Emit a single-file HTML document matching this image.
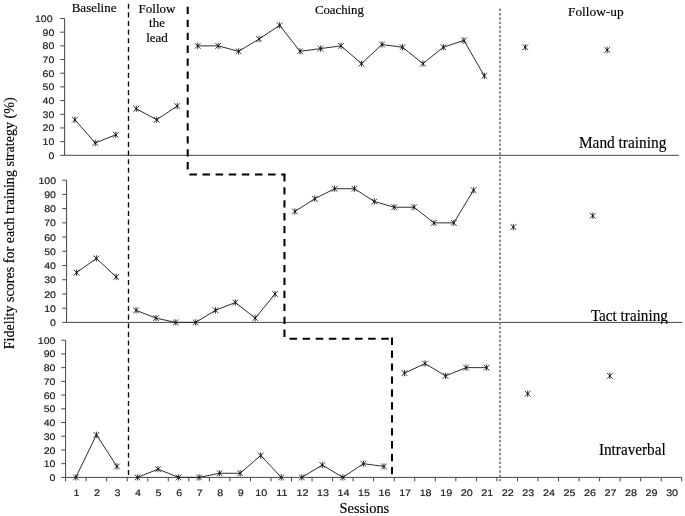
<!DOCTYPE html>
<html lang="en"><head><meta charset="utf-8"><title>Fidelity scores</title>
<style>
html,body{margin:0;padding:0;background:#fff}
svg{display:block}
.ser{font-family:"Liberation Serif",serif;fill:#000;stroke:#000;stroke-width:.16px}
.san{font-family:"Liberation Sans",sans-serif;fill:#1a1a1a;font-size:9.5px;stroke:#1a1a1a;stroke-width:.18px;text-rendering:geometricPrecision}
</style></head><body>
<svg width="685" height="516" viewBox="0 0 685 516">
<rect width="685" height="516" fill="#fff"/>
<defs><g id="m" stroke="#262626" stroke-width="0.9" fill="none"><path d="M-2.85-2.85L2.85 2.85M-2.85 2.85L2.85-2.85M0-3.2V3.2"/><circle r="0.95" fill="#111" stroke="none"/></g></defs>

<g stroke="#444" stroke-width="1" fill="none">
<path d="M64.60 18.50V155.30H678.90"/>
<path d="M60.30 155.30h4.3M60.30 141.62h4.3M60.30 127.94h4.3M60.30 114.26h4.3M60.30 100.58h4.3M60.30 86.90h4.3M60.30 73.22h4.3M60.30 59.54h4.3M60.30 45.86h4.3M60.30 32.18h4.3M60.30 18.50h4.3"/>
</g>
<g class="san" text-anchor="end">
<text transform="translate(54.3 158.8) scale(1.11 1)">0</text>
<text transform="translate(54.3 145.1) scale(1.11 1)">10</text>
<text transform="translate(54.3 131.4) scale(1.11 1)">20</text>
<text transform="translate(54.3 117.8) scale(1.11 1)">30</text>
<text transform="translate(54.3 104.1) scale(1.11 1)">40</text>
<text transform="translate(54.3 90.4) scale(1.11 1)">50</text>
<text transform="translate(54.3 76.7) scale(1.11 1)">60</text>
<text transform="translate(54.3 63.0) scale(1.11 1)">70</text>
<text transform="translate(54.3 49.4) scale(1.11 1)">80</text>
<text transform="translate(54.3 35.7) scale(1.11 1)">90</text>
<text transform="translate(52.6 22.0) scale(1.11 1)">100</text>
</g>
<polyline points="74.84,119.73 95.31,142.99 115.79,134.78" fill="none" stroke="#262626" stroke-width="0.97"/>
<use href="#m" x="74.84" y="119.73"/>
<use href="#m" x="95.31" y="142.99"/>
<use href="#m" x="115.79" y="134.78"/>
<polyline points="136.27,108.79 156.75,119.73 177.22,106.05" fill="none" stroke="#262626" stroke-width="0.97"/>
<use href="#m" x="136.27" y="108.79"/>
<use href="#m" x="156.75" y="119.73"/>
<use href="#m" x="177.22" y="106.05"/>
<polyline points="197.70,45.86 218.17,45.86 238.65,51.33 259.13,39.02 279.61,25.34 300.08,51.33 320.56,48.60 341.03,45.86 361.51,63.64 381.99,44.49 402.47,47.23 422.94,63.64 443.42,47.23 463.89,40.39 484.37,75.96" fill="none" stroke="#262626" stroke-width="0.97"/>
<use href="#m" x="197.70" y="45.86"/>
<use href="#m" x="218.17" y="45.86"/>
<use href="#m" x="238.65" y="51.33"/>
<use href="#m" x="259.13" y="39.02"/>
<use href="#m" x="279.61" y="25.34"/>
<use href="#m" x="300.08" y="51.33"/>
<use href="#m" x="320.56" y="48.60"/>
<use href="#m" x="341.03" y="45.86"/>
<use href="#m" x="361.51" y="63.64"/>
<use href="#m" x="381.99" y="44.49"/>
<use href="#m" x="402.47" y="47.23"/>
<use href="#m" x="422.94" y="63.64"/>
<use href="#m" x="443.42" y="47.23"/>
<use href="#m" x="463.89" y="40.39"/>
<use href="#m" x="484.37" y="75.96"/>
<use href="#m" x="525.33" y="47.23"/>
<use href="#m" x="607.23" y="49.96"/>
<g stroke="#444" stroke-width="1" fill="none">
<path d="M66.60 180.20V322.40H682.10"/>
<path d="M62.30 322.40h4.3M62.30 308.18h4.3M62.30 293.96h4.3M62.30 279.74h4.3M62.30 265.52h4.3M62.30 251.30h4.3M62.30 237.08h4.3M62.30 222.86h4.3M62.30 208.64h4.3M62.30 194.42h4.3M62.30 180.20h4.3"/>
</g>
<g class="san" text-anchor="end">
<text transform="translate(56.0 325.9) scale(1.11 1)">0</text>
<text transform="translate(56.0 311.7) scale(1.11 1)">10</text>
<text transform="translate(56.0 297.5) scale(1.11 1)">20</text>
<text transform="translate(56.0 283.2) scale(1.11 1)">30</text>
<text transform="translate(56.0 269.0) scale(1.11 1)">40</text>
<text transform="translate(56.0 254.8) scale(1.11 1)">50</text>
<text transform="translate(56.0 240.6) scale(1.11 1)">60</text>
<text transform="translate(56.0 226.4) scale(1.11 1)">70</text>
<text transform="translate(56.0 212.1) scale(1.11 1)">80</text>
<text transform="translate(56.0 197.9) scale(1.11 1)">90</text>
<text transform="translate(56.0 183.7) scale(1.11 1)">100</text>
</g>
<polyline points="76.53,272.63 96.38,258.41 116.24,276.90" fill="none" stroke="#262626" stroke-width="0.97"/>
<use href="#m" x="76.53" y="272.63"/>
<use href="#m" x="96.38" y="258.41"/>
<use href="#m" x="116.24" y="276.90"/>
<polyline points="136.09,310.31 155.95,318.13 175.80,322.40 195.66,322.40 215.51,310.31 235.37,302.49 255.22,318.13 275.08,293.96" fill="none" stroke="#262626" stroke-width="0.97"/>
<use href="#m" x="136.09" y="310.31"/>
<use href="#m" x="155.95" y="318.13"/>
<use href="#m" x="175.80" y="322.40"/>
<use href="#m" x="195.66" y="322.40"/>
<use href="#m" x="215.51" y="310.31"/>
<use href="#m" x="235.37" y="302.49"/>
<use href="#m" x="255.22" y="318.13"/>
<use href="#m" x="275.08" y="293.96"/>
<polyline points="294.93,211.48 314.79,198.69 334.64,188.73 354.50,188.73 374.35,201.53 394.20,207.22 414.06,207.22 433.91,222.86 453.77,222.86 473.62,190.15" fill="none" stroke="#262626" stroke-width="0.97"/>
<use href="#m" x="294.93" y="211.48"/>
<use href="#m" x="314.79" y="198.69"/>
<use href="#m" x="334.64" y="188.73"/>
<use href="#m" x="354.50" y="188.73"/>
<use href="#m" x="374.35" y="201.53"/>
<use href="#m" x="394.20" y="207.22"/>
<use href="#m" x="414.06" y="207.22"/>
<use href="#m" x="433.91" y="222.86"/>
<use href="#m" x="453.77" y="222.86"/>
<use href="#m" x="473.62" y="190.15"/>
<use href="#m" x="513.33" y="227.13"/>
<use href="#m" x="592.75" y="215.75"/>
<g stroke="#444" stroke-width="1" fill="none">
<path d="M65.60 340.20V477.40H681.75"/>
<path d="M61.30 477.40h4.3M61.30 463.68h4.3M61.30 449.96h4.3M61.30 436.24h4.3M61.30 422.52h4.3M61.30 408.80h4.3M61.30 395.08h4.3M61.30 381.36h4.3M61.30 367.64h4.3M61.30 353.92h4.3M61.30 340.20h4.3"/>
<path d="M65.60 477.40v4M86.14 477.40v4M106.68 477.40v4M127.22 477.40v4M147.75 477.40v4M168.29 477.40v4M188.83 477.40v4M209.37 477.40v4M229.91 477.40v4M250.44 477.40v4M270.98 477.40v4M291.52 477.40v4M312.06 477.40v4M332.60 477.40v4M353.14 477.40v4M373.67 477.40v4M394.21 477.40v4M414.75 477.40v4M435.29 477.40v4M455.83 477.40v4M476.37 477.40v4M496.90 477.40v4M517.44 477.40v4M537.98 477.40v4M558.52 477.40v4M579.06 477.40v4M599.60 477.40v4M620.13 477.40v4M640.67 477.40v4M661.21 477.40v4M681.75 477.40v4"/>
</g>
<g class="san" text-anchor="end">
<text transform="translate(55.4 480.9) scale(1.11 1)">0</text>
<text transform="translate(55.4 467.2) scale(1.11 1)">10</text>
<text transform="translate(55.4 453.5) scale(1.11 1)">20</text>
<text transform="translate(55.4 439.7) scale(1.11 1)">30</text>
<text transform="translate(55.4 426.0) scale(1.11 1)">40</text>
<text transform="translate(55.4 412.3) scale(1.11 1)">50</text>
<text transform="translate(55.4 398.6) scale(1.11 1)">60</text>
<text transform="translate(55.4 384.9) scale(1.11 1)">70</text>
<text transform="translate(55.4 371.1) scale(1.11 1)">80</text>
<text transform="translate(55.4 357.4) scale(1.11 1)">90</text>
<text transform="translate(55.4 343.7) scale(1.11 1)">100</text>
</g>
<g class="san" text-anchor="middle">
<text transform="translate(76.5 496.3) scale(1.13 1)">1</text>
<text transform="translate(97.0 496.3) scale(1.13 1)">2</text>
<text transform="translate(117.5 496.3) scale(1.13 1)">3</text>
<text transform="translate(138.1 496.3) scale(1.13 1)">4</text>
<text transform="translate(158.6 496.3) scale(1.13 1)">5</text>
<text transform="translate(179.2 496.3) scale(1.13 1)">6</text>
<text transform="translate(199.7 496.3) scale(1.13 1)">7</text>
<text transform="translate(220.2 496.3) scale(1.13 1)">8</text>
<text transform="translate(240.8 496.3) scale(1.13 1)">9</text>
<text transform="translate(261.3 496.3) scale(1.13 1)">10</text>
<text transform="translate(281.9 496.3) scale(1.13 1)">11</text>
<text transform="translate(302.4 496.3) scale(1.13 1)">12</text>
<text transform="translate(322.9 496.3) scale(1.13 1)">13</text>
<text transform="translate(343.5 496.3) scale(1.13 1)">14</text>
<text transform="translate(364.0 496.3) scale(1.13 1)">15</text>
<text transform="translate(384.5 496.3) scale(1.13 1)">16</text>
<text transform="translate(405.1 496.3) scale(1.13 1)">17</text>
<text transform="translate(425.6 496.3) scale(1.13 1)">18</text>
<text transform="translate(446.2 496.3) scale(1.13 1)">19</text>
<text transform="translate(466.7 496.3) scale(1.13 1)">20</text>
<text transform="translate(487.2 496.3) scale(1.13 1)">21</text>
<text transform="translate(507.8 496.3) scale(1.13 1)">22</text>
<text transform="translate(528.3 496.3) scale(1.13 1)">23</text>
<text transform="translate(548.9 496.3) scale(1.13 1)">24</text>
<text transform="translate(569.4 496.3) scale(1.13 1)">25</text>
<text transform="translate(589.9 496.3) scale(1.13 1)">26</text>
<text transform="translate(610.5 496.3) scale(1.13 1)">27</text>
<text transform="translate(631.0 496.3) scale(1.13 1)">28</text>
<text transform="translate(651.5 496.3) scale(1.13 1)">29</text>
<text transform="translate(672.1 496.3) scale(1.13 1)">30</text>
</g>
<polyline points="75.87,477.40 96.41,434.87 116.95,466.42" fill="none" stroke="#262626" stroke-width="0.97"/>
<use href="#m" x="75.87" y="477.40"/>
<use href="#m" x="96.41" y="434.87"/>
<use href="#m" x="116.95" y="466.42"/>
<polyline points="137.48,477.40 158.02,469.17 178.56,477.40 199.10,477.40 219.64,473.28 240.18,473.28 260.71,455.45 281.25,477.40" fill="none" stroke="#262626" stroke-width="0.97"/>
<use href="#m" x="137.48" y="477.40"/>
<use href="#m" x="158.02" y="469.17"/>
<use href="#m" x="178.56" y="477.40"/>
<use href="#m" x="199.10" y="477.40"/>
<use href="#m" x="219.64" y="473.28"/>
<use href="#m" x="240.18" y="473.28"/>
<use href="#m" x="260.71" y="455.45"/>
<use href="#m" x="281.25" y="477.40"/>
<polyline points="301.79,477.40 322.33,465.05 342.87,477.40 363.41,463.68 383.94,466.42" fill="none" stroke="#262626" stroke-width="0.97"/>
<use href="#m" x="301.79" y="477.40"/>
<use href="#m" x="322.33" y="465.05"/>
<use href="#m" x="342.87" y="477.40"/>
<use href="#m" x="363.41" y="463.68"/>
<use href="#m" x="383.94" y="466.42"/>
<polyline points="404.48,373.13 425.02,363.52 445.56,375.87 466.10,367.64 486.64,367.64" fill="none" stroke="#262626" stroke-width="0.97"/>
<use href="#m" x="404.48" y="373.13"/>
<use href="#m" x="425.02" y="363.52"/>
<use href="#m" x="445.56" y="375.87"/>
<use href="#m" x="466.10" y="367.64"/>
<use href="#m" x="486.64" y="367.64"/>
<use href="#m" x="527.71" y="393.71"/>
<use href="#m" x="609.87" y="375.87"/>
<path d="M128.5 3.7V475.2" stroke="#0a0a0a" stroke-width="1.35" stroke-dasharray="5.1 3.535" fill="none"/>
<g stroke="#000" stroke-width="2.05" fill="none">
<path d="M187.7 6.8V170" stroke-dasharray="7.3 5.64"/>
<path d="M189.4 174.4H285.45" stroke-dasharray="7.5 5.61"/>
<path d="M284.45 174.3V337.2" stroke-dasharray="7.3 5.64"/>
<path d="M289.5 338.8H391" stroke-dasharray="7.5 5.61"/>
<path d="M392 337.6V474.9" stroke-dasharray="7.3 5.64"/>
</g>
<path d="M500 8.6V481.3" stroke="#888" stroke-width="1.9" stroke-dasharray="2.45 1.9054" fill="none"/>
<g class="ser" font-size="13px" text-anchor="middle">
<text x="94.1" y="11.8">Baseline</text>
<text x="157" y="12.9">Follow</text><text x="157" y="27.4">the</text><text x="157" y="41.8">lead</text>
<text x="339.4" y="14.1" font-size="12.75px">Coaching</text>
<text x="595.8" y="15.8" font-size="13.35px">Follow-up</text>
</g>
<g class="ser" font-size="16.2px">
<text x="578.9" y="147.6" textLength="87.5" lengthAdjust="spacingAndGlyphs">Mand training</text>
<text x="590.9" y="320.8" textLength="77" lengthAdjust="spacingAndGlyphs">Tact training</text>
<rect x="585" y="323.9" width="92" height="6" fill="#fff" stroke="none"/>
<text x="598.9" y="455" font-size="16px" textLength="66.8" lengthAdjust="spacingAndGlyphs">Intraverbal</text>
</g>
<text class="ser" font-size="14.4px" text-anchor="middle" x="364.4" y="513">Sessions</text>
<text class="ser" font-size="14.1px" text-anchor="middle" transform="translate(13.7 223.3) rotate(-90)">Fidelity scores for each training strategy (%)</text>
</svg></body></html>
